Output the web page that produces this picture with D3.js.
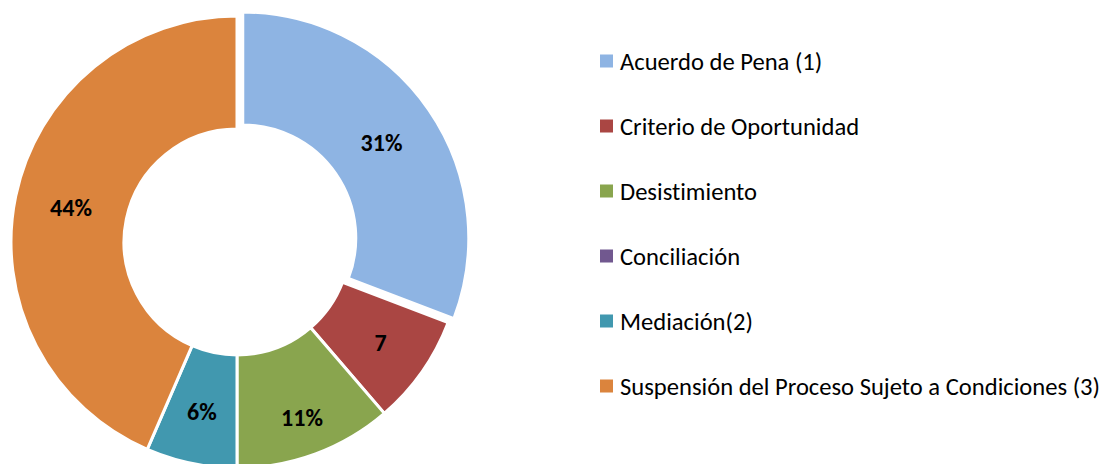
<!DOCTYPE html>
<html>
<head>
<meta charset="utf-8">
<script src="https://cdn.jsdelivr.net/npm/d3@7/dist/d3.min.js"></script>
<style>
  html, body { margin: 0; padding: 0; background: #fff; }
  svg { display: block; }
  text { font-family: Carlito, Calibri, Lato, "Open Sans", sans-serif; font-variant-ligatures: none; }
</style>
</head>
<body>
<svg id="chart" width="1112" height="464"></svg>
<script>
// ---- data ----
const categories = [
  "Acuerdo de Pena (1)",
  "Criterio de Oportunidad",
  "Desistimiento",
  "Conciliación",
  "Mediación(2)",
  "Suspensión del Proceso Sujeto a Condiciones (3)"
];
const values = [30.8, 7.9, 11.3, 0, 6.5, 43.5];
const dataLabels = ["31%", "7", "11%", "", "6%", "44%"];

// ---- style ----
const colors = ["#8EB4E3", "#AA4643", "#89A54E", "#71588F", "#4198AF", "#DB843D"];
const explode = [7, 0, 0, 0, 0, 0];
const labelNudge = [-1, 6, 17.5, 0, 4, 0];

const W = 1112, H = 464;
const cx = 237, cy = 242, R = 226, r = 113;

const svg = d3.select("#chart");
const table = categories.map((c, i) => ({ name: c, value: values[i], label: dataLabels[i], color: colors[i], explode: explode[i], nudge: labelNudge[i] }));

const pie = d3.pie().value(d => d.value).sort(null);
const arcs = pie(table);
const arc = d3.arc().innerRadius(r).outerRadius(R);

const g = svg.append("g").attr("transform", `translate(${cx},${cy})`);

const slice = g.selectAll("g.slice").data(arcs).enter().append("g")
  .attr("class", "slice")
  .attr("transform", d => {
    const a = (d.startAngle + d.endAngle) / 2;
    const e = d.data.explode;
    return `translate(${Math.sin(a) * e},${-Math.cos(a) * e})`;
  });

slice.filter(d => d.data.value > 0).append("path")
  .attr("d", arc)
  .attr("fill", d => d.data.color)
  .attr("stroke", "#fff")
  .attr("stroke-width", 3)
  .attr("stroke-linejoin", "miter");

slice.filter(d => d.data.label !== "").append("text")
  .attr("transform", d => {
    const a = (d.startAngle + d.endAngle) / 2;
    const rr = (r + R) / 2 + d.data.nudge;
    return `translate(${Math.sin(a) * rr},${-Math.cos(a) * rr})`;
  })
  .attr("text-anchor", "middle")
  .attr("dy", "0.35em")
  .attr("font-size", 24)
  .attr("font-weight", "bold")
  .attr("fill", "#000")
  .text(d => d.data.label);

// ---- legend ----
const legend = svg.append("g").attr("transform", "translate(600,61)");
const legendStep = 65;
const item = legend.selectAll("g.item").data(table).enter().append("g")
  .attr("class", "item")
  .attr("transform", (d, i) => `translate(0,${i * legendStep})`);
item.append("rect")
  .attr("x", 0).attr("y", -6.5)
  .attr("width", 13).attr("height", 13)
  .attr("fill", d => d.color);
item.append("text")
  .attr("x", 20).attr("y", 0)
  .attr("dy", "0.35em")
  .attr("font-size", 24.6)
  .attr("fill", "#000")
  .text(d => d.name);
</script>
</body>
</html>
